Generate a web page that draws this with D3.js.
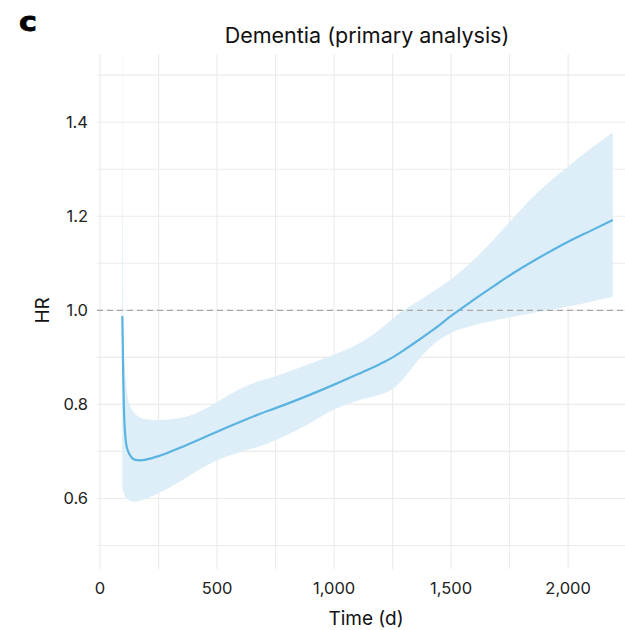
<!DOCTYPE html>
<html>
<head>
<meta charset="utf-8">
<script src="https://cdn.jsdelivr.net/npm/d3@7"></script>
<style>
  body { margin: 0; background: #fff; }
  svg { display: block; font-family: Inter, "Noto Sans", sans-serif; }
</style>
</head>
<body>
<div class="chart"></div>
<script>
// values: time in days, hazard ratio with 95% CI
const days    = [95, 97, 99, 102, 106, 112, 121, 135, 150, 171, 200, 250, 342, 427, 500, 600, 684, 750, 875, 1000, 1100, 1197, 1250, 1300, 1368, 1430, 1500, 1581, 1681, 1750, 1866, 2000, 2100, 2191];
const hr      = [0.988, 0.93, 0.86, 0.79, 0.745, 0.715, 0.699, 0.687, 0.682, 0.681, 0.683, 0.690, 0.708, 0.726, 0.742, 0.763, 0.780, 0.792, 0.816, 0.842, 0.864, 0.886, 0.900, 0.916, 0.939, 0.961, 0.988, 1.017, 1.051, 1.074, 1.109, 1.146, 1.170, 1.192];
const hrLower = [0.625, 0.620, 0.616, 0.611, 0.606, 0.601, 0.597, 0.594, 0.593, 0.595, 0.600, 0.611, 0.636, 0.662, 0.681, 0.699, 0.711, 0.724, 0.754, 0.789, 0.808, 0.821, 0.832, 0.857, 0.899, 0.930, 0.952, 0.966, 0.978, 0.985, 0.996, 1.008, 1.019, 1.029];
const hrUpper = [3.000, 1.300, 1.050, 0.930, 0.880, 0.840, 0.810, 0.790, 0.780, 0.772, 0.768, 0.767, 0.771, 0.785, 0.805, 0.833, 0.850, 0.860, 0.882, 0.906, 0.928, 0.960, 0.982, 1.001, 1.022, 1.042, 1.066, 1.100, 1.150, 1.188, 1.249, 1.306, 1.345, 1.378];

const xTicks = [0, 500, 1000, 1500, 2000];
const xGrid  = [0, 250, 500, 750, 1000, 1250, 1500, 1750, 2000, 2250];
const yTicks = [0.6, 0.8, 1.0, 1.2, 1.4];
const yGrid  = [0.5, 0.6, 0.7, 0.8, 0.9, 1.0, 1.1, 1.2, 1.3, 1.4, 1.5];

const width = 625, height = 630;
const panel = {left: 97, right: 625, top: 54, bottom: 569};

const x = d3.scaleLinear().domain([-13, 2243]).range([panel.left, panel.right]);
const y = d3.scaleLinear().domain([0.45, 1.545]).range([panel.bottom, panel.top]);

const rows = days.map((d, i) => ({t: d, hr: hr[i], lo: hrLower[i], hi: hrUpper[i]}));

const svg = d3.select(".chart").append("svg")
    .attr("width", width)
    .attr("height", height);

svg.append("clipPath").attr("id", "panel-clip")
    .append("rect")
    .attr("x", panel.left).attr("y", panel.top)
    .attr("width", panel.right - panel.left)
    .attr("height", panel.bottom - panel.top);

//grid
svg.append("g").selectAll("line")
    .data(xGrid).enter().append("line")
    .attr("x1", d => x(d)).attr("x2", d => x(d))
    .attr("y1", panel.top).attr("y2", panel.bottom)
    .attr("stroke", "#ebebeb").attr("stroke-width", 1.1);

svg.append("g").selectAll("line")
    .data(yGrid).enter().append("line")
    .attr("x1", panel.left).attr("x2", panel.right)
    .attr("y1", d => y(d)).attr("y2", d => y(d))
    .attr("stroke", "#ebebeb").attr("stroke-width", 1.1);

const plot = svg.append("g").attr("clip-path", "url(#panel-clip)");

//confidence band
const band = d3.area()
    .x(d => x(d.t))
    .y0(d => y(d.lo))
    .y1(d => y(d.hi))
    .curve(d3.curveMonotoneX);

plot.append("path")
    .datum(rows)
    .attr("d", band)
    .attr("fill", "#ddeef9");

//reference line at HR = 1
plot.append("line")
    .attr("x1", panel.left).attr("x2", panel.right)
    .attr("y1", y(1)).attr("y2", y(1))
    .attr("stroke", "#a6a6a6")
    .attr("stroke-width", 1.3)
    .attr("stroke-dasharray", "6,4");

const line = d3.line()
    .x(d => x(d.t))
    .y(d => y(d.hr))
    .curve(d3.curveMonotoneX);

plot.append("path")
    .datum(rows)
    .attr("d", line)
    .attr("fill", "none")
    .attr("stroke", "#5ab3e0")
    .attr("stroke-width", 2.2);

//tick labels
svg.append("g").selectAll("text")
    .data(xTicks).enter().append("text")
    .attr("x", d => x(d))
    .attr("y", 594)
    .attr("text-anchor", "middle")
    .attr("font-size", 16.5)
    .attr("fill", "#222")
    .text(d => d3.format(",")(d));

svg.append("g").selectAll("text")
    .data(yTicks).enter().append("text")
    .attr("x", 88)
    .attr("y", d => y(d))
    .attr("dy", "0.36em")
    .attr("text-anchor", "end")
    .attr("font-size", 16.5)
    .attr("fill", "#222")
    .text(d => d3.format(".1f")(d));

//axis titles
svg.append("text")
    .attr("x", 366)
    .attr("y", 625)
    .attr("text-anchor", "middle")
    .attr("font-size", 19)
    .attr("fill", "#111")
    .text("Time (d)");

svg.append("text")
    .attr("transform", `translate(49, ${y(1)}) rotate(-90)`)
    .attr("text-anchor", "middle")
    .attr("font-size", 19)
    .attr("fill", "#111")
    .text("HR");

svg.append("text")
    .attr("x", 367)
    .attr("y", 43)
    .attr("text-anchor", "middle")
    .attr("font-size", 21.5)
    .attr("fill", "#111")
    .text("Dementia (primary analysis)");

//panel letter
svg.append("text")
    .attr("transform", "translate(19, 30.5) scale(1.12, 1)")
    .attr("font-family", "'DejaVu Sans', sans-serif")
    .attr("font-weight", "bold")
    .attr("font-size", 27)
    .attr("fill", "#000")
    .attr("stroke", "#000")
    .attr("stroke-width", 0.8)
    .text("c");
</script>
</body>
</html>
